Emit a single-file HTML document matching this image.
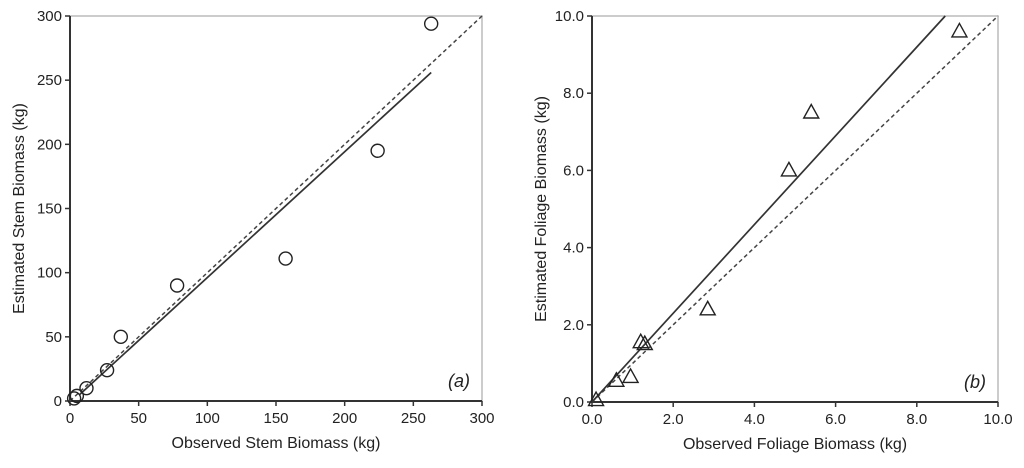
<!DOCTYPE html>
<html><head><meta charset="utf-8"><style>
body{margin:0;background:#fff;width:1024px;height:463px;overflow:hidden}
svg text{font-family:"Liberation Sans",sans-serif;fill:#222}
</style></head><body>
<svg id="c" width="1024" height="463"></svg>
<script>
const stemObs=[3,5,12,27,37,78,157,224,263];
const stemEst=[2,4,10,24,50,90,111,195,294];
const stemTicks=[0,50,100,150,200,250,300];
const stemFit=[[7,5],[263,256]];
const folObs=[0.1,0.6,0.95,1.2,1.3,2.85,4.85,5.4,9.05];
const folEst=[0.05,0.55,0.65,1.55,1.5,2.4,6.0,7.5,9.6];
const folTicks=[0,2,4,6,8,10];
const folFit=[[0,0],[8.7,10]];
const svg=document.getElementById('c');
const NS='http://www.w3.org/2000/svg';
function mk(t,a,p){const e=document.createElementNS(NS,t);for(const k in a)e.setAttribute(k,a[k]);(p||svg).appendChild(e);return e;}
function panel(o){
  const g=mk('g',{});
  
  
  const sx=v=>o.x0+(v-o.min)/(o.max-o.min)*(o.x1-o.x0);
  const sy=v=>o.y0-(v-o.min)/(o.max-o.min)*(o.y0-o.y1);
  mk('rect',{x:o.x0,y:o.y1,width:o.x1-o.x0,height:o.y0-o.y1,fill:'none',stroke:'#bbb','stroke-width':1.5},g);
  const ax=mk('path',{d:`M${o.x0},${o.y1}V${o.y0}H${o.x1}`,fill:'none',stroke:'#333','stroke-width':2},g);
  
  
  o.ticks.forEach(t=>{
    mk('line',{x1:sx(t),x2:sx(t),y1:o.y0,y2:o.y0+5,stroke:'#333','stroke-width':1.5},g);
    mk('line',{x1:o.x0-5,x2:o.x0,y1:sy(t),y2:sy(t),stroke:'#333','stroke-width':1.5},g);
    const lx=mk('text',{x:sx(t),y:o.y0+22,'text-anchor':'middle','font-size':15},g);
    lx.textContent=o.fmt(t);
    
    
    const ly=mk('text',{x:o.x0-8,y:sy(t)+5,'text-anchor':'end','font-size':15},g);
    ly.textContent=o.fmt(t);
    
    
  });
  const d=mk('line',{x1:sx(o.min),y1:sy(o.min),x2:sx(o.max),y2:sy(o.max),stroke:'#444','stroke-width':1.5,'stroke-dasharray':'4,3'},g);
  
  
  const f=mk('line',{x1:sx(o.fit[0][0]),y1:sy(o.fit[0][1]),x2:sx(o.fit[1][0]),y2:sy(o.fit[1][1]),stroke:'#333','stroke-width':1.7},g);
  
  
  o.xs.forEach((v,i)=>{
    const X=sx(v),Y=sy(o.ys[i]);let p;
    if(o.tri)p=mk('path',{d:`M${X},${Y-8}L${X+7.5},${Y+5.5}L${X-7.5},${Y+5.5}Z`,fill:'none',stroke:'#222','stroke-width':1.4},g);
    else p=mk('circle',{cx:X,cy:Y,r:6.5,fill:'none',stroke:'#222','stroke-width':1.4},g);
    
    
  });
  const xt=mk('text',{x:(o.x0+o.x1)/2,y:o.y0+47,'text-anchor':'middle','font-size':16},g);
  xt.textContent=o.xl;
  
  
  const yt=mk('text',{x:0,y:0,'text-anchor':'middle','font-size':16,transform:`translate(${o.ytx},${(o.y0+o.y1)/2}) rotate(-90)`},g);
  yt.textContent=o.yl;
  
  
  const pl=mk('text',{x:o.x1-12,y:o.y0-14,'text-anchor':'end','font-size':18,'font-style':'italic'},g);
  pl.textContent=o.label;
  
  
}
panel({name:'stem-panel',x0:70,x1:482,y0:401,y1:16,min:0,max:300,ticks:stemTicks,fmt:t=>String(t),xs:stemObs,ys:stemEst,fit:stemFit,tri:false,xl:'Observed Stem Biomass (kg)',yl:'Estimated Stem Biomass (kg)',ytx:24,label:'(a)'});
panel({name:'foliage-panel',x0:592,x1:998,y0:402,y1:16,min:0,max:10,ticks:folTicks,fmt:t=>t.toFixed(1),xs:folObs,ys:folEst,fit:folFit,tri:true,xl:'Observed Foliage Biomass (kg)',yl:'Estimated Foliage Biomass (kg)',ytx:546,label:'(b)'});
</script>
</body></html>
